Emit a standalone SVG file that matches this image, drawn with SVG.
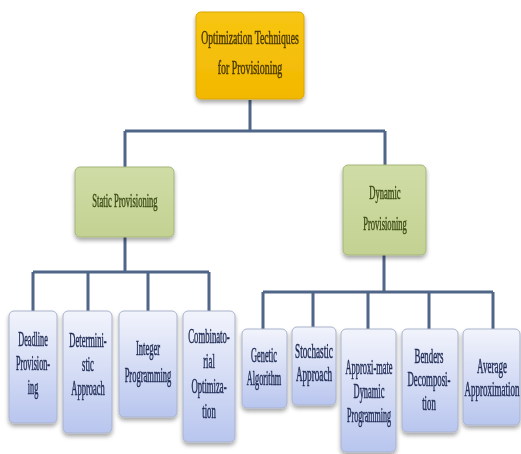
<svg xmlns="http://www.w3.org/2000/svg" width="521" height="454" viewBox="0 0 521 454">
<defs>
<linearGradient id="blue" x1="0" y1="0" x2="0" y2="1">
<stop offset="0" stop-color="#F2F4FC"/>
<stop offset="1" stop-color="#B8C5EE"/>
</linearGradient>
<linearGradient id="gold" x1="0" y1="0" x2="0" y2="1">
<stop offset="0" stop-color="#F8C614"/>
<stop offset="1" stop-color="#F2B800"/>
</linearGradient>
<linearGradient id="green" x1="0" y1="0" x2="0" y2="1">
<stop offset="0" stop-color="#D0DCA6"/>
<stop offset="1" stop-color="#C3D292"/>
</linearGradient>
<filter id="sh" x="-20%" y="-20%" width="140%" height="150%">
<feGaussianBlur in="SourceAlpha" stdDeviation="2"/>
<feOffset dx="0" dy="3" result="b"/>
<feComponentTransfer><feFuncA type="linear" slope="0.35"/></feComponentTransfer>
<feMerge><feMergeNode/><feMergeNode in="SourceGraphic"/></feMerge>
</filter>
</defs>
<style>
text{font-family:"Liberation Serif","Times New Roman",serif;text-anchor:middle;stroke-width:0.5}
.bl rect{fill:url(#blue);stroke:#A9B3CB;stroke-width:1}
.bl text{fill:#1F2B55;stroke:#1F2B55;font-size:20px}
.gr rect{fill:url(#green);stroke:#A4B67A;stroke-width:1}
.gr text{fill:#3C4D15;stroke:#3C4D15;font-size:19px}
.go rect{fill:url(#gold);stroke:#D9A500;stroke-width:1}
.go text{fill:#4A3A00;stroke:#4A3A00;font-size:18px}
.c{fill:none;stroke:#4F6688;stroke-width:3}
</style>
<rect width="521" height="454" fill="#FFFFFF"/>
<g id="connectors">
<path class="c" d="M250 100V131M125 131H385M125 131V167M385 131V165"/>
<path class="c" d="M125 237V272M33 272H209M33 272V311M88 272V311M148 272V311M209 272V311"/>
<path class="c" d="M384 255V292M263 292H493M263 292V329M313 292V327M368 292V329M429 292V329M493 292V329"/>
</g>
<g id="root" class="go" filter="url(#sh)">
<rect x="196" y="12" width="108" height="87" rx="5"/>
<text transform="translate(250 44) scale(0.54 1)">Optimization Techniques</text>
<text transform="translate(250 74) scale(0.55 1)">for Provisioning</text>
</g>
<g id="static" class="gr" filter="url(#sh)">
<rect x="75" y="167" width="99" height="70" rx="5"/>
<text transform="translate(125 207) scale(0.45 1)">Static Provisioning</text>
</g>
<g id="dynamic" class="gr" filter="url(#sh)">
<rect x="343" y="165" width="83" height="90" rx="5"/>
<text transform="translate(385 199) scale(0.45 1)">Dynamic</text>
<text transform="translate(385 230) scale(0.45 1)">Provisioning</text>
</g>
<g id="deadline" class="bl" filter="url(#sh)">
<rect x="9" y="311" width="48" height="112" rx="5"/>
<text transform="translate(33 346) scale(0.41 1)">Deadline</text>
<text transform="translate(33 370) scale(0.41 1)">Provision-</text>
<text transform="translate(33 394) scale(0.41 1)">ing</text>
</g>
<g id="deterministic" class="bl" filter="url(#sh)">
<rect x="63" y="311" width="49" height="122" rx="5"/>
<text transform="translate(88 347) scale(0.425 1)">Determini-</text>
<text transform="translate(88 371) scale(0.425 1)">stic</text>
<text transform="translate(88 395) scale(0.425 1)">Approach</text>
</g>
<g id="integer" class="bl" filter="url(#sh)">
<rect x="119" y="311" width="58" height="106" rx="5"/>
<text transform="translate(148 355) scale(0.425 1)">Integer</text>
<text transform="translate(148 382) scale(0.425 1)">Programming</text>
</g>
<g id="combinatorial" class="bl" filter="url(#sh)">
<rect x="183" y="311" width="52" height="131" rx="5"/>
<text transform="translate(209 343) scale(0.435 1)">Combinato-</text>
<text transform="translate(209 368) scale(0.435 1)">rial</text>
<text transform="translate(209 393) scale(0.435 1)">Optimiza-</text>
<text transform="translate(209 418) scale(0.435 1)">tion</text>
</g>
<g id="genetic" class="bl" filter="url(#sh)">
<rect x="242" y="329" width="45" height="79" rx="5"/>
<text transform="translate(264 362) scale(0.415 1)">Genetic</text>
<text transform="translate(264 385) scale(0.415 1)">Algorithm</text>
</g>
<g id="stochastic" class="bl" filter="url(#sh)">
<rect x="292" y="327" width="44" height="78" rx="5"/>
<text transform="translate(314 358) scale(0.46 1)">Stochastic</text>
<text transform="translate(314 381) scale(0.46 1)">Approach</text>
</g>
<g id="approximate" class="bl" filter="url(#sh)">
<rect x="341" y="329" width="55" height="123" rx="5"/>
<text transform="translate(369 374) scale(0.42 1)">Approxi-mate</text>
<text transform="translate(369 398) scale(0.42 1)">Dynamic</text>
<text transform="translate(369 422) scale(0.40 1)">Programming</text>
</g>
<g id="benders" class="bl" filter="url(#sh)">
<rect x="402" y="329" width="56" height="103" rx="5"/>
<text transform="translate(429 363) scale(0.44 1)">Benders</text>
<text transform="translate(429 386) scale(0.44 1)">Decomposi-</text>
<text transform="translate(429 410) scale(0.44 1)">tion</text>
</g>
<g id="average" class="bl" filter="url(#sh)">
<rect x="463" y="329" width="57" height="96" rx="5"/>
<text transform="translate(492 373) scale(0.45 1)">Average</text>
<text transform="translate(492 396) scale(0.45 1)">Approximation</text>
</g>
</svg>
